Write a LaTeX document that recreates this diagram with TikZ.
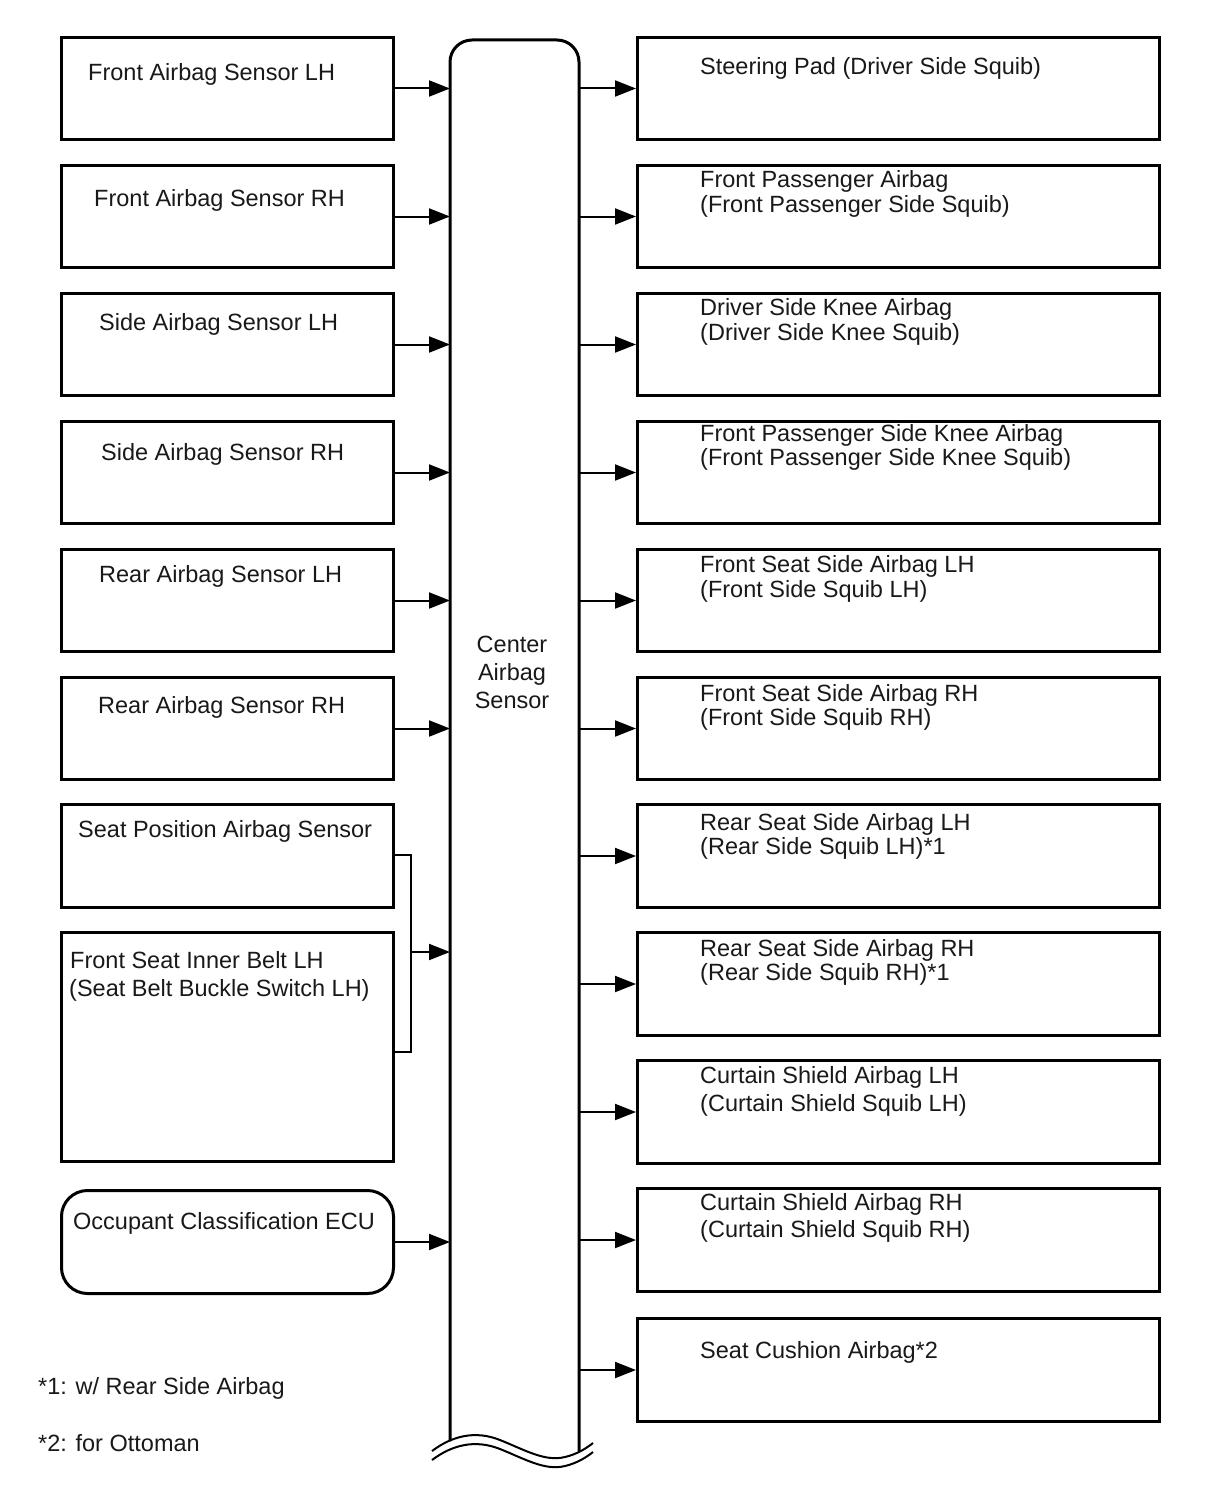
\documentclass[tikz,border=0pt]{standalone}
\usepackage{fontspec}
\setmainfont{Liberation Sans}
\usetikzlibrary{arrows.meta}
\begin{document}
\begin{tikzpicture}[x=1pt,y=-1pt,
  box/.style={draw, line width=3pt, minimum width=332pt, minimum height=102pt, anchor=north west, inner sep=0pt},
  rbox/.style={draw, line width=3pt, minimum width=522pt, minimum height=102pt, anchor=north west, inner sep=0pt},
  txt/.style={anchor=base west, inner sep=0pt, align=left, text=black!90, font=\fontsize{23.5pt}{25pt}\selectfont},
  arr/.style={line width=2pt, -{Triangle[length=21pt,width=16pt]}},
  thin/.style={line width=2pt}]
\useasboundingbox (0,0) rectangle (1210,1498);
\fill[white] (0,0) rectangle (1210,1498);

% center column
\node[minimum width=129pt, minimum height=1400pt, anchor=north west, inner sep=0pt] (cas) at (450,40) {};
\draw[line width=3pt, rounded corners=22pt] (450,1441) -- (450,40) -- (579,40) -- (579,1451);
\draw[line width=2pt] (432,1451) .. controls (452,1436) and (475,1430) .. (500,1440) .. controls (525,1450) and (545,1462) .. (565,1457) .. controls (578,1454) and (588,1447) .. (593,1443);
\draw[line width=2pt] (432,1460) .. controls (452,1445) and (475,1439) .. (500,1449) .. controls (525,1459) and (545,1471) .. (565,1466) .. controls (578,1463) and (588,1456) .. (593,1452);
\node[txt, anchor=center, align=center, font=\fontsize{23.5pt}{28pt}\selectfont] (cast) at (512,672) {Center\\Airbag\\Sensor};

% left boxes
\node[box] (l1) at (60,36) {};
\node[box] (l2) at (60,164) {};
\node[box] (l3) at (60,292) {};
\node[box] (l4) at (60,420) {};
\node[box] (l5) at (60,548) {};
\node[box] (l6) at (60,676) {};
\node[box, minimum height=103pt] (l7) at (60,803) {};
\node[box, minimum height=229pt] (l8) at (60,931) {};
\node[box, minimum height=103pt, rounded corners=26pt] (l9) at (60,1189) {};

\node[txt] (l1t) at (88,81) {Front Airbag Sensor LH};
\node[txt] (l2t) at (94,207) {Front Airbag Sensor RH};
\node[txt] (l3t) at (99,330) {Side Airbag Sensor LH};
\node[txt] (l4t) at (101,460) {Side Airbag Sensor RH};
\node[txt] (l5t) at (99,582) {Rear Airbag Sensor LH};
\node[txt] (l6t) at (98,713) {Rear Airbag Sensor RH};
\node[txt] (l7t) at (78,837) {Seat Position Airbag Sensor};
\node[txt, font=\fontsize{23.5pt}{28pt}\selectfont] (l8t) at (70,996) {Front Seat Inner Belt LH\\\hspace*{-1pt}(Seat Belt Buckle Switch LH)};
\node[txt] (l9t) at (73,1229) {Occupant Classification ECU};

\foreach \n in {l1,l2,l3,l4,l5,l6,l9}
  \draw[arr] (\n.east) -- (cas.west |- \n.east);

% bracket
\coordinate (bt) at (411,855);
\coordinate (bb) at (411,1052);
\coordinate (bm) at (411,952);
\draw[thin] (l7.east |- bt) -- (bt) -- (bb) -- (l8.east |- bb);
\draw[arr] (bm) -- (cas.west |- bm);

% right boxes
\node[rbox] (r1) at (636,36) {};
\node[rbox] (r2) at (636,164) {};
\node[rbox] (r3) at (636,292) {};
\node[rbox] (r4) at (636,420) {};
\node[rbox] (r5) at (636,548) {};
\node[rbox] (r6) at (636,676) {};
\node[rbox, minimum height=103pt] (r7) at (636,803) {};
\node[rbox, minimum height=103pt] (r8) at (636,931) {};
\node[rbox, minimum height=103pt] (r9) at (636,1059) {};
\node[rbox, minimum height=103pt] (r10) at (636,1187) {};
\node[rbox, minimum height=103pt] (r11) at (636,1317) {};

\foreach \n in {r1,r2,r3,r4,r5,r6,r7,r8,r9,r10,r11}
  \draw[arr] (cas.east |- \n.west) -- (\n.west);

\node[txt] (r1t) at (700,75) {Steering Pad (Driver Side Squib)};
\node[txt] (r2t) at (700,212) {Front Passenger Airbag\\(Front Passenger Side Squib)};
\node[txt] (r3t) at (700,340) {Driver Side Knee Airbag\\(Driver Side Knee Squib)};
\node[txt, font=\fontsize{23.5pt}{24pt}\selectfont] (r4t) at (700,465) {Front Passenger Side Knee Airbag\\(Front Passenger Side Knee Squib)};
\node[txt] (r5t) at (700,597) {Front Seat Side Airbag LH\\(Front Side Squib LH)};
\node[txt, font=\fontsize{23.5pt}{24pt}\selectfont] (r6t) at (700,725) {Front Seat Side Airbag RH\\(Front Side Squib RH)};
\node[txt, font=\fontsize{23.5pt}{24pt}\selectfont] (r7t) at (700,854) {Rear Seat Side Airbag LH\\(Rear Side Squib LH)*1};
\node[txt, font=\fontsize{23.5pt}{23.5pt}\selectfont] (r8t) at (700,980) {Rear Seat Side Airbag RH\\(Rear Side Squib RH)*1};
\node[txt, font=\fontsize{23.5pt}{28pt}\selectfont] (r9t) at (700,1111) {Curtain Shield Airbag LH\\(Curtain Shield Squib LH)};
\node[txt, font=\fontsize{23.5pt}{27pt}\selectfont] (r10t) at (700,1237) {Curtain Shield Airbag RH\\(Curtain Shield Squib RH)};
\node[txt] (r11t) at (700,1358) {Seat Cushion Airbag*2};

% footnotes
\node[txt] (fn1) at (38,1394) {*1: w/ Rear Side Airbag};
\node[txt] (fn2) at (38,1451) {*2: for Ottoman};
\end{tikzpicture}
\end{document}
